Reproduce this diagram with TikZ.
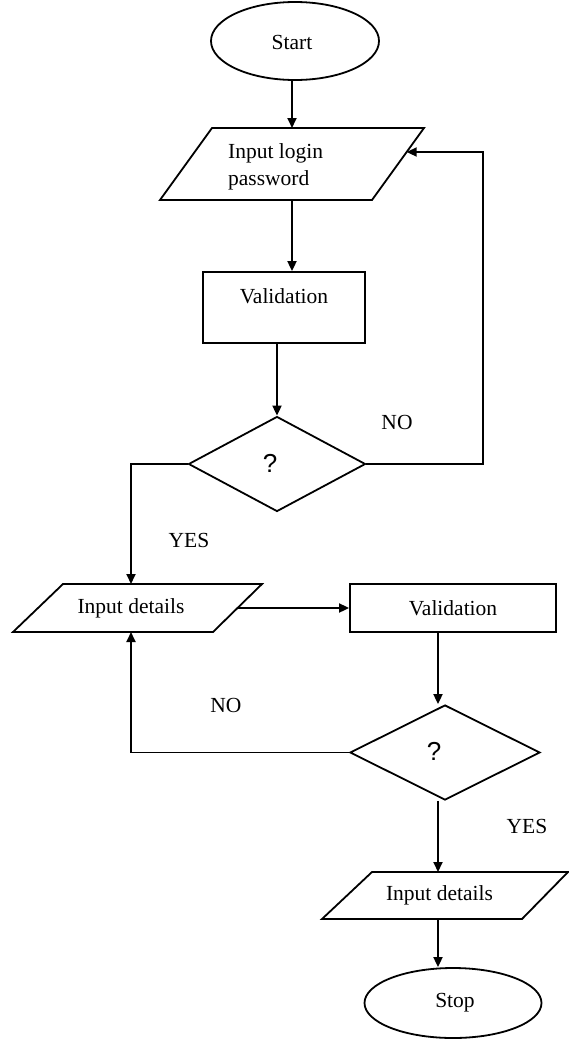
\documentclass[tikz,border=0pt]{standalone}
\usepackage{fontspec}
\setmainfont{Liberation Serif}
\newfontfamily\qfont{Liberation Sans}
\usetikzlibrary{shapes.geometric,arrows.meta,calc}
\begin{document}
\begin{tikzpicture}[x=1pt,y=-1pt,
  every node/.style={font=\fontsize{21.5}{27}\selectfont, inner sep=0pt},
  line/.style={line width=1.8pt},
  arr/.style={line width=1.8pt, -{Triangle[length=10pt,width=9pt]}},
  term/.style={ellipse, draw, line width=1.8pt},
  proc/.style={rectangle, draw, line width=1.8pt},
  dec/.style={diamond, draw, line width=1.8pt},
  io/.style={line width=1.8pt, line join=miter},
  qmark/.style={font=\qfont\fontsize{26}{30}\selectfont}]
\useasboundingbox (0,0) rectangle (569,1039);

% terminators
\node[term, minimum width=168pt, minimum height=78pt] (start) at (295,41) {};
\node (starttxt) at (292,42) {Start};

% input login
\draw[io] (212,128) coordinate (p1tl) -- (424,128) coordinate (p1tr)
  -- (372,200) coordinate (p1br) -- (160,200) coordinate (p1bl) -- cycle;
\coordinate (p1in) at ($(p1tr)!1/3!(p1br)$);
\node[align=left, anchor=north west] (p1txt) at (228,143) {Input login\\password};

\node[proc, minimum width=162pt, minimum height=71pt] (v1) at (284,307.5) {};
\node (v1txt) at (284,296) {Validation};

\node[dec, minimum width=177pt, minimum height=95pt] (d1) at (277,464) {};
\node[qmark] (q1) at (270,463) {?};

% input details 1
\draw[io] (63,584) coordinate (p2tl) -- (262,584) coordinate (p2tr)
  -- (213,632) coordinate (p2br) -- (13,632) coordinate (p2bl) -- cycle;
\coordinate (p2out) at ($(p2tr)!0.5!(p2br)$);
\node (p2txt) at (131,608) {Input details};

\node[proc, minimum width=206pt, minimum height=48pt] (v2) at (453,608) {};
\node (v2txt) at (453,608) {Validation};

\node[dec, minimum width=190pt, minimum height=95pt] (d2) at (445,752.5) {};
\node[qmark] (q2) at (434,751) {?};

% input details 2
\draw[io] (372,872) coordinate (p3tl) -- (568,872) coordinate (p3tr)
  -- (522,919) coordinate (p3br) -- (322,919) coordinate (p3bl) -- cycle;
\node (p3txt) at (439.5,895.5) {Input details};

\node[term, minimum width=177pt, minimum height=70pt] (stop) at (453,1003) {};
\node (stoptxt) at (455,1003) {Stop};

% labels
\node (no1) at (397,422) {NO};
\node (yes1) at (189,540) {YES};
\node (no2) at (226,705) {NO};
\node (yes2) at (527,826) {YES};

% column coordinates
\coordinate (c1) at (292,0);
\coordinate (c2) at (277,0);
\coordinate (c3) at (438,0);
\coordinate (cl) at (131,0);
\coordinate (cr) at (483,0);

% connectors
\draw[arr] (start.south -| c1) -- (p1tl -| c1);
\draw[arr] (p1bl -| c1) -- (v1.north -| c1);
\draw[arr] (v1.south -| c2) -- (d1.north -| c2);
\draw[arr] (d1.east) -| (cr |- p1in) -- (p1in);
\draw[arr] (d1.west) -| (cl |- p2tl);
\draw[arr] (p2out) -- (v2.west);
\draw[arr] (v2.south -| c3) -- (d2.north -| c3);
\draw[arr] (d2.west) -| (cl |- p2bl);
\draw[arr] (d2.south -| c3) -- (p3tl -| c3);
\draw[arr] (p3bl -| c3) -- (stop.north -| c3);
\end{tikzpicture}
\end{document}
